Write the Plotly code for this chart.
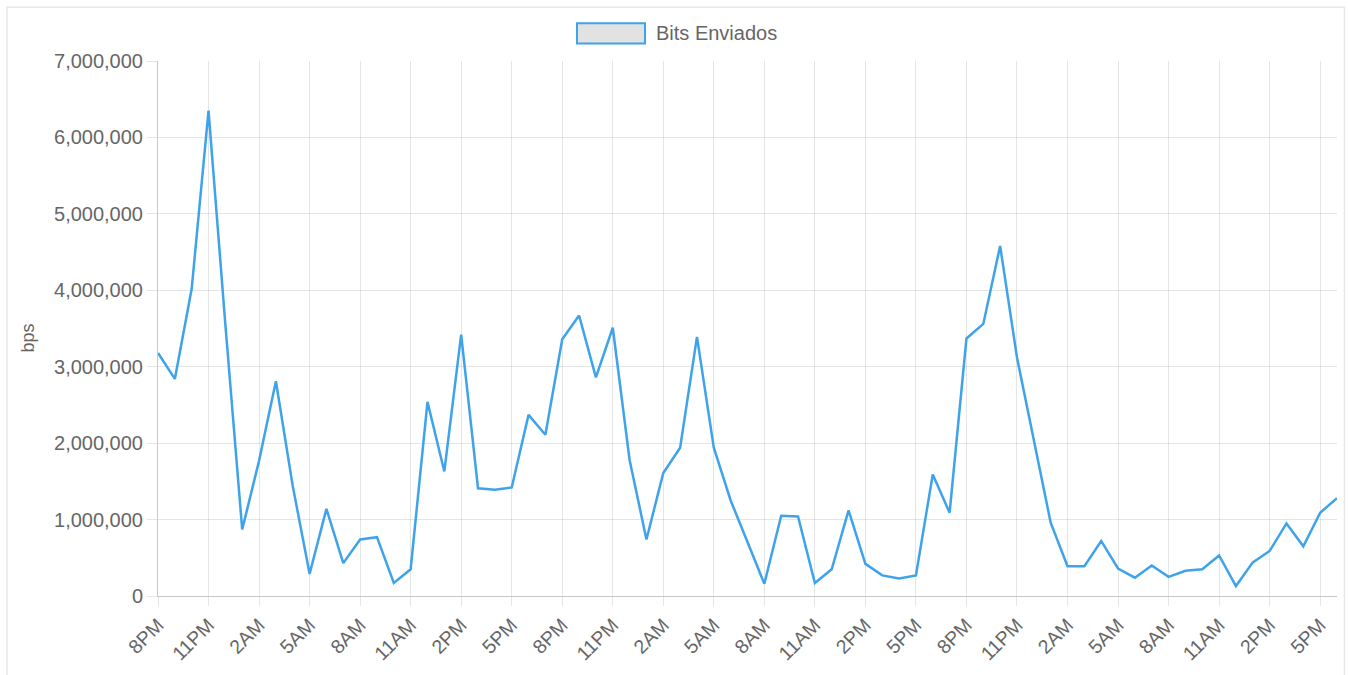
import plotly.graph_objects as go

hour_labels = ["8PM", "11PM", "2AM", "5AM", "8AM", "11AM", "2PM", "5PM"] * 3
bits_enviados = [
    3180000, 2840000, 4020000, 6350000, 3550000, 870000, 1770000, 2810000, 1440000, 290000,
    1140000, 430000, 740000, 770000, 170000, 350000, 2540000, 1630000, 3420000, 1410000,
    1390000, 1420000, 2370000, 2110000, 3360000, 3670000, 2860000, 3510000, 1780000, 740000,
    1610000, 1940000, 3390000, 1940000, 1250000, 710000, 160000, 1050000, 1040000, 170000,
    350000, 1120000, 420000, 270000, 230000, 270000, 1590000, 1090000, 3370000, 3560000,
    4580000, 3120000, 2030000, 960000, 390000, 390000, 720000, 360000, 240000, 400000,
    250000, 330000, 350000, 530000, 130000, 440000, 590000, 950000, 650000, 1090000,
    1280000,
]
series_name = "Bits Enviados"
y_title = "bps"

x_idx = list(range(len(bits_enviados)))
tick_idx = x_idx[::3]
tick_text = hour_labels[: len(tick_idx)]

FONT = "Liberation Sans, Arial, sans-serif"
GRID = "rgba(0,0,0,0.1)"
AXIS = "rgba(0,0,0,0.22)"
TXT = "#666666"

fig = go.Figure()
fig.add_trace(go.Scatter(
    x=x_idx, y=bits_enviados, mode="lines", name=series_name,
    line=dict(color="#3ea3ea", width=2.5), showlegend=False,
    hovertemplate="%{y:,}<extra></extra>",
))

W, H = 1348, 675
L, R, T, B = 158, 11, 61, 76
pw, ph = W - L - R, H - T - B

def px(x):
    return (x - L) / pw

def py(y):
    return (H - B - y) / ph

fig.update_layout(
    width=W, height=H,
    margin=dict(l=L, r=R, t=T, b=B),
    paper_bgcolor="white", plot_bgcolor="white",
    font=dict(family=FONT, color=TXT, size=18),
    xaxis=dict(
        range=[0, len(bits_enviados) - 1],
        tickmode="array", tickvals=tick_idx, ticktext=tick_text,
        tickangle=-45, showgrid=True, gridcolor=GRID, gridwidth=1,
        ticks="outside", ticklen=9, tickcolor=GRID,
        showline=True, linecolor=AXIS, linewidth=1,
        zeroline=False, tickfont=dict(size=19.5, color=TXT),
    ),
    yaxis=dict(
        range=[0, 7000000], tickmode="linear", tick0=0, dtick=1000000,
        tickformat=",d", showgrid=True, gridcolor=GRID, gridwidth=1,
        ticks="outside", ticklen=10, tickcolor=GRID,
        showline=True, linecolor=AXIS, linewidth=1,
        zeroline=True, zerolinecolor=AXIS, zerolinewidth=1,
        tickfont=dict(size=20, color=TXT),
    ),
    showlegend=False,
)

# outer card border
fig.add_shape(type="rect", xref="paper", yref="paper",
              x0=px(7), x1=px(1344.5), y0=py(690), y1=py(7),
              line=dict(color="#e8e8e8", width=1.5), fillcolor="rgba(0,0,0,0)", layer="below")

# legend
fig.add_shape(type="rect", xref="paper", yref="paper",
              x0=px(577), x1=px(645), y0=py(43.5), y1=py(23),
              line=dict(color="#3ea3ea", width=2), fillcolor="#e2e2e2")
fig.add_annotation(xref="paper", yref="paper", x=px(654), y=py(33),
                   xanchor="left", yanchor="middle", showarrow=False,
                   text=series_name, font=dict(size=20, color=TXT, family=FONT))

# y axis title
fig.add_annotation(xref="paper", yref="paper", x=px(28), y=py(340),
                   xanchor="center", yanchor="middle", showarrow=False,
                   text=y_title, textangle=-90, font=dict(size=18, color=TXT, family=FONT))

fig.write_html(
    "out.html",
    config={"displayModeBar": False},
    post_script="document.body.style.margin='0';document.body.style.padding='0';document.body.style.overflow='hidden';",
)
